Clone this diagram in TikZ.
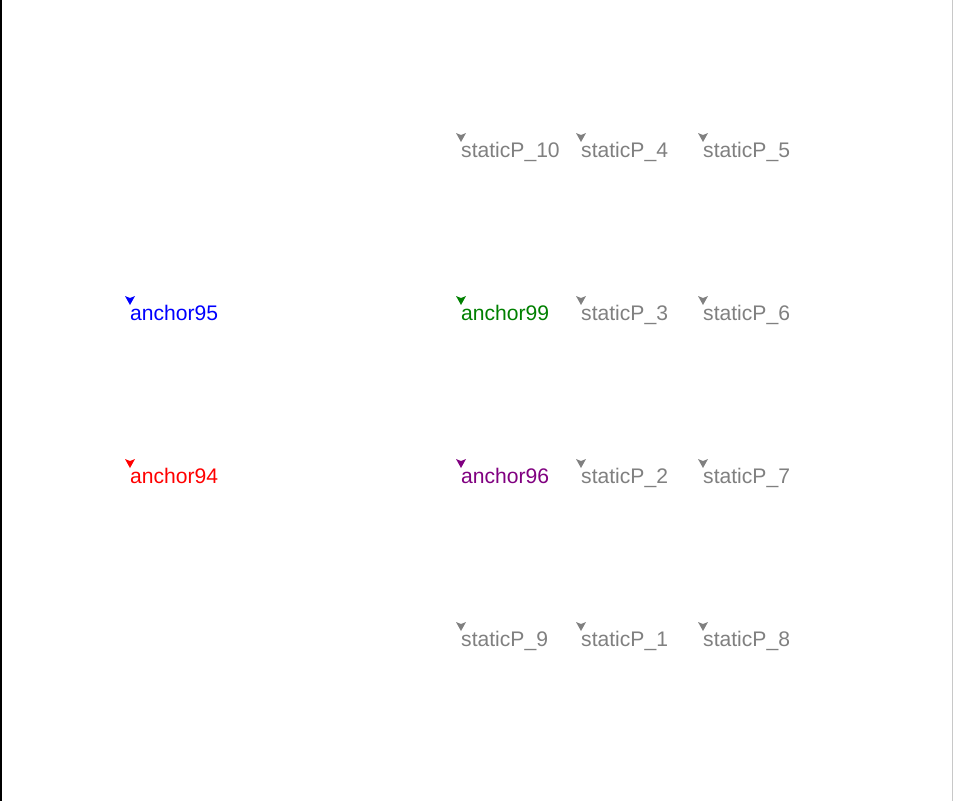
\documentclass[tikz,border=0pt]{standalone}
\usepackage{fontspec}
\setmainfont{Liberation Sans}
\definecolor{cgreen}{RGB}{0,128,0}
\definecolor{cpurple}{RGB}{128,0,128}
\definecolor{cgray}{RGB}{128,128,128}
\definecolor{cedge}{RGB}{200,200,200}
\tikzset{
  lbl/.style={anchor=base west,inner sep=0pt,font=\fontsize{21.1}{25}\selectfont},
}
\begin{document}
\begin{tikzpicture}[x=1pt,y=-1pt]
\useasboundingbox (0,0) rectangle (953,801);
\fill[white] (0,0) rectangle (953,801);
\draw[black,line width=1.5pt] (0.75,0) -- (0.75,801);
\draw[cedge,line width=1pt] (952.5,0) -- (952.5,801);
\foreach \nm/\x/\y/\c/\t in {
  s10/461/157/cgray/staticP\_10, s4/581/157/cgray/staticP\_4, s5/703/157/cgray/staticP\_5,
  a95/130/320/blue/anchor95, a99/461/320/cgreen/anchor99, s3/581/320/cgray/staticP\_3, s6/703/320/cgray/staticP\_6,
  a94/130/483/red/anchor94, a96/461/483/cpurple/anchor96, s2/581/483/cgray/staticP\_2, s7/703/483/cgray/staticP\_7,
  s9/461/646/cgray/staticP\_9, s1/581/646/cgray/staticP\_1, s8/703/646/cgray/staticP\_8}{
  \coordinate (p\nm) at (\x,\y);
  \fill[\c] ([shift={(-5,-24)}]p\nm) -- ([shift={(0,-15)}]p\nm) -- ([shift={(5,-24)}]p\nm) -- ([shift={(0,-22)}]p\nm) -- cycle;
  \node[lbl,text=\c] (t\nm) at (p\nm) {\t};
}
\end{tikzpicture}
\end{document}
